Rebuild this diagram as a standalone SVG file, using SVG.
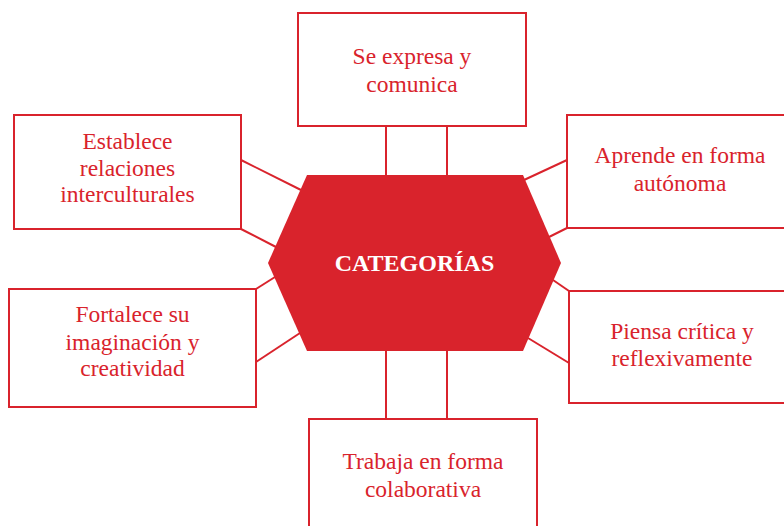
<svg xmlns="http://www.w3.org/2000/svg" width="784" height="526" viewBox="0 0 784 526">
<style>
.box{fill:#fff;stroke:#d9232c;stroke-width:2}
.lbl{font-family:"Liberation Serif","Times New Roman",serif;font-size:23.5px;fill:#d9232c;text-anchor:middle}
.conn line{stroke:#d9232c;stroke-width:2}
.hex{fill:#d9232c}
.hl{font-family:"Liberation Serif","Times New Roman",serif;font-size:24px;font-weight:bold;fill:#fff;text-anchor:middle}
</style>
<rect width="784" height="526" fill="#fff"/>
<g id="connectors" class="conn">
<line x1="386" y1="126" x2="386" y2="176"/>
<line x1="447" y1="126" x2="447" y2="176"/>
<line x1="386" y1="350" x2="386" y2="419"/>
<line x1="447" y1="350" x2="447" y2="419"/>
<line x1="241" y1="160" x2="301" y2="190"/>
<line x1="241" y1="229" x2="276" y2="247"/>
<line x1="256" y1="289" x2="275" y2="277"/>
<line x1="256" y1="362" x2="300" y2="333"/>
<line x1="567" y1="160" x2="524" y2="180"/>
<line x1="567" y1="228" x2="549" y2="237"/>
<line x1="569" y1="291" x2="553" y2="280"/>
<line x1="569" y1="363" x2="528" y2="338"/>
</g>
<g id="center">
<polygon class="hex" points="307,175 523,175 561,263 523,351 307,351 268,263"/>
<text class="hl" x="414.5" y="271">CATEGORÍAS</text>
</g>
<g id="top">
<rect class="box" x="298" y="13" width="228" height="113"/>
<text class="lbl" x="412" y="64">Se expresa y</text>
<text class="lbl" x="412" y="92">comunica</text>
</g>
<g id="left-top">
<rect class="box" x="14" y="115" width="227" height="114"/>
<text class="lbl" x="127.5" y="149">Establece</text>
<text class="lbl" x="127.5" y="176">relaciones</text>
<text class="lbl" x="127.5" y="202">interculturales</text>
</g>
<g id="left-bottom">
<rect class="box" x="9" y="289" width="247" height="118"/>
<text class="lbl" x="132.5" y="322">Fortalece su</text>
<text class="lbl" x="132.5" y="350">imaginación y</text>
<text class="lbl" x="132.5" y="376">creatividad</text>
</g>
<g id="right-top">
<rect class="box" x="567" y="115" width="240" height="113"/>
<text class="lbl" x="680" y="163">Aprende en forma</text>
<text class="lbl" x="680" y="191">autónoma</text>
</g>
<g id="right-bottom">
<rect class="box" x="569" y="291" width="240" height="112"/>
<text class="lbl" x="682" y="339">Piensa crítica y</text>
<text class="lbl" x="682" y="366">reflexivamente</text>
</g>
<g id="bottom">
<rect class="box" x="309" y="419" width="228" height="120"/>
<text class="lbl" x="423" y="469">Trabaja en forma</text>
<text class="lbl" x="423" y="497">colaborativa</text>
</g>
</svg>
